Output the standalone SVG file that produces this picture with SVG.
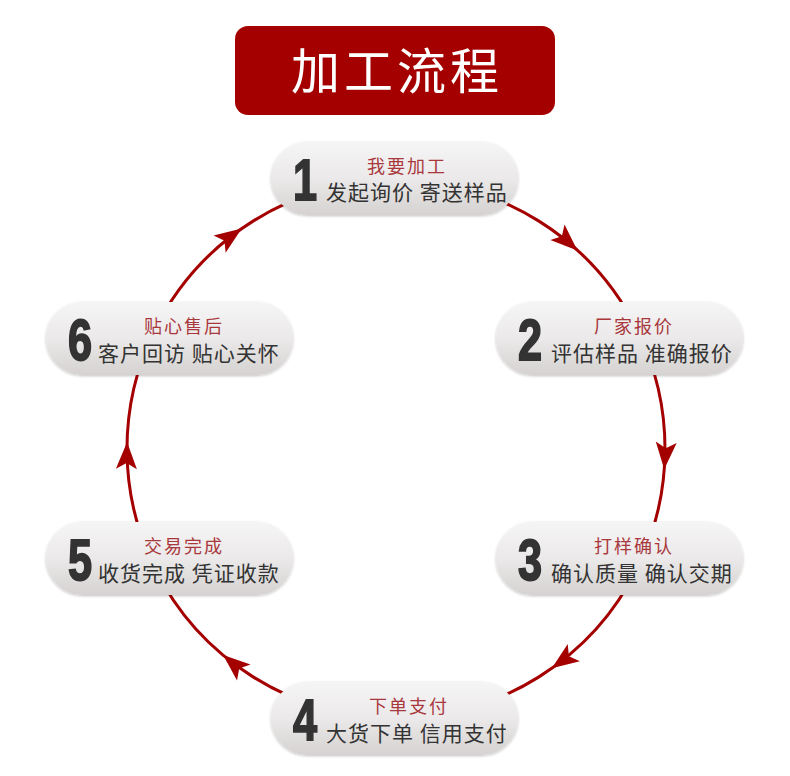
<svg xmlns="http://www.w3.org/2000/svg" width="790" height="776" viewBox="0 0 790 776">
<defs>
<linearGradient id="pill" x1="0" y1="0" x2="0" y2="1">
<stop offset="0" stop-color="#f6f5f5"/>
<stop offset="0.5" stop-color="#ebe9e9"/>
<stop offset="1" stop-color="#d5d2d1"/>
</linearGradient>
<filter id="soft" x="-10%" y="-20%" width="120%" height="140%">
<feGaussianBlur in="SourceAlpha" stdDeviation="1.5"/>
<feOffset dy="1" result="b"/>
<feComponentTransfer><feFuncA type="linear" slope="0.25"/></feComponentTransfer>
<feMerge><feMergeNode/><feMergeNode in="SourceGraphic"/></feMerge>
</filter>
<path id="ah" d="M0,0 L-27,-10.5 L-21,0 L-27,10.5 Z"/>
</defs>
<style>
.arc{fill:none;stroke:#a50000;stroke-width:3}
.head{fill:#a50000}
.pill{fill:url(#pill);filter:url(#soft)}
.num{font-family:"Liberation Sans",Arial,sans-serif;font-weight:bold;font-size:57px;fill:#333;stroke:#333;stroke-width:1.8;text-anchor:middle}
.t1{font-family:"Noto Sans CJK SC",sans-serif;font-size:18px;fill:#a9383d;letter-spacing:2px;text-anchor:middle}
.t2{font-family:"Noto Sans CJK SC",sans-serif;font-size:21px;fill:#333;letter-spacing:1px}
.title{font-family:"Noto Sans CJK SC",sans-serif;font-size:49px;fill:#fff;letter-spacing:4px;text-anchor:middle}
</style>
<rect width="790" height="776" fill="#fff"/>
<g id="title">
<rect x="235" y="26" width="320" height="89" rx="13" fill="#a50000"/>
<text class="title" x="397" y="89">加工流程</text>
</g>
<g id="connectors">
<path class="arc" d="M396,180 A269,269 0 0 1 637.8,331.1"/>
<path class="arc" d="M637.8,331.1 A269,269 0 0 1 637.8,566.9"/>
<path class="arc" d="M637.8,566.9 A269,269 0 0 1 396,718"/>
<path class="arc" d="M396,718 A269,269 0 0 1 154.2,566.9"/>
<path class="arc" d="M154.2,566.9 A269,269 0 0 1 154.2,331.1"/>
<path class="arc" d="M154.2,331.1 A269,269 0 0 1 396,180"/>
<use href="#ah" class="head" transform="translate(577.4,250.4) rotate(42.4)"/>
<use href="#ah" class="head" transform="translate(664.2,469.2) rotate(94.3)"/>
<use href="#ah" class="head" transform="translate(551.8,668.3) rotate(144.6)"/>
<use href="#ah" class="head" transform="translate(223.1,655.1) rotate(220)"/>
<use href="#ah" class="head" transform="translate(127.1,442) rotate(271.5)"/>
<use href="#ah" class="head" transform="translate(241.7,228.6) rotate(-35)"/>
</g>
<g id="node1" transform="translate(271,142)">
<rect class="pill" width="247" height="73" rx="36.5"/>
<text class="num" transform="translate(34,58) scale(0.76,1)">1</text>
<text class="t1" x="136" y="31">我要加工</text>
<text class="t2" x="55" y="57.5">发起询价 寄送样品</text>
</g>
<g id="node2" transform="translate(496,302)">
<rect class="pill" width="247" height="73" rx="36.5"/>
<text class="num" transform="translate(34,58) scale(0.76,1)">2</text>
<text class="t1" x="138" y="31">厂家报价</text>
<text class="t2" x="55" y="58.5">评估样品 准确报价</text>
</g>
<g id="node3" transform="translate(496,522)">
<rect class="pill" width="247" height="73" rx="36.5"/>
<text class="num" transform="translate(34,58) scale(0.76,1)">3</text>
<text class="t1" x="138" y="31">打样确认</text>
<text class="t2" x="55" y="58.5">确认质量 确认交期</text>
</g>
<g id="node4" transform="translate(271,682)">
<rect class="pill" width="247" height="73" rx="36.5"/>
<text class="num" transform="translate(34,58) scale(0.76,1)">4</text>
<text class="t1" x="138" y="31">下单支付</text>
<text class="t2" x="55" y="58.5">大货下单 信用支付</text>
</g>
<g id="node5" transform="translate(46,522)">
<rect class="pill" width="247" height="73" rx="36.5"/>
<text class="num" transform="translate(34,58) scale(0.76,1)">5</text>
<text class="t1" x="138" y="31">交易完成</text>
<text class="t2" x="52" y="58.5">收货完成 凭证收款</text>
</g>
<g id="node6" transform="translate(46,302)">
<rect class="pill" width="247" height="73" rx="36.5"/>
<text class="num" transform="translate(34,58) scale(0.76,1)">6</text>
<text class="t1" x="138" y="31">贴心售后</text>
<text class="t2" x="52" y="58.5">客户回访 贴心关怀</text>
</g>
</svg>
